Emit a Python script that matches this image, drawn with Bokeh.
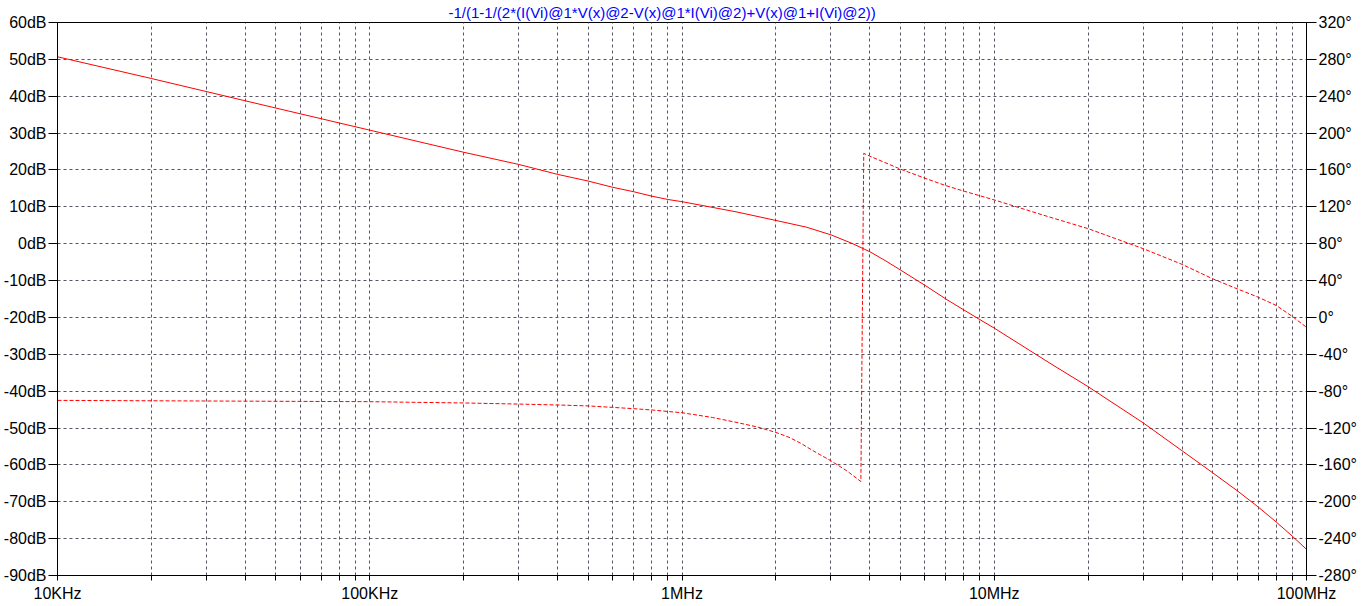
from bokeh.plotting import figure
from bokeh.models import Range1d, LinearAxis, FixedTicker
from bokeh.embed import file_html
from bokeh.resources import INLINE

TITLE = "-1/(1-1/(2*(I(Vi)@1*V(x)@2-V(x)@1*I(Vi)@2)+V(x)@1+I(Vi)@2))"

# magnitude (dB) vs frequency (Hz)
freq_mag = [1e4, 2e4, 5e4, 1e5, 2e5, 3e5, 4e5, 5e5, 6e5, 7e5, 8e5, 9e5, 1e6,
            1.5e6, 2e6, 2.5e6, 3e6, 3.5e6, 4e6, 4.5e6, 5e6, 6e6, 7e6, 8e6, 9e6, 1e7,
            1.5e7, 2e7, 3e7, 4e7, 5e7, 6e7, 7e7, 8e7, 9e7, 1e8]
mag_db = [50.7, 44.8, 36.8, 30.8, 24.8, 21.5, 18.8, 17.0, 15.3, 14.1, 12.9, 12.0, 11.4,
          8.6, 6.3, 4.5, 2.4, 0.1, -2.2, -4.7, -7.1, -11.3, -15.0, -18.0, -20.6, -22.9,
          -32.3, -38.8, -48.6, -56.2, -62.1, -67.0, -71.4, -75.5, -79.3, -82.9]

# phase (degrees) vs frequency (Hz)
freq_ph = [1e4, 1e5, 2e5, 3e5, 4e5, 5e5, 6e5, 7e5, 8e5, 9e5, 1e6, 1.25e6, 1.5e6,
           1.75e6, 2e6, 2.2e6, 2.4e6, 2.64e6, 3e6, 3.37e6, 3.74e6, 3.82e6, 4e6,
           5e6, 6e6, 7e6, 8e6, 9e6, 1e7, 1.5e7, 2e7, 3e7, 4e7, 5e7, 6e7, 7e7,
           8e7, 9e7, 1e8]
phase_deg = [-90, -91.4, -92.8, -94, -95, -96, -97.6, -99, -100.4, -102, -103.4, -108.5, -114,
             -119, -124.8, -130, -136.5, -145, -155.6, -166.4, -178, 178, 174.9,
             161, 151, 143, 137, 132, 127.5, 109, 96.3, 74.6, 57.5, 42, 31, 22,
             13, 1.2, -10.7]

x_ticks = [1e4, 1e5, 1e6, 1e7, 1e8]
x_labels = ["10KHz", "100KHz", "1MHz", "10MHz", "100MHz"]
db_ticks = list(range(-90, 61, 10))
deg_ticks = list(range(-280, 321, 40))

minor_x = [m * 10 ** e for e in range(4, 8) for m in range(2, 10)]

GRID = "#5b5363"
FONT = "Liberation Sans"
FSIZE = "16px"
RED = "#ff0000"

p = figure(width=1362, height=606, x_axis_type="log",
           x_range=Range1d(1e4, 1e8), y_range=Range1d(-90, 60),
           output_backend="svg", toolbar_location=None,
           min_border_left=56, min_border_right=56, min_border_top=0, min_border_bottom=31)
p.extra_y_ranges = {"phase": Range1d(-280, 320)}

p.title.text = TITLE
p.title.align = "left"
p.title.offset = 391
p.title.standoff = 3
p.title.text_color = "#0000ff"
p.title.text_font = FONT
p.title.text_font_size = "15px"
p.title.text_font_style = "normal"

p.background_fill_color = "white"
p.border_fill_color = "white"
p.outline_line_color = "black"
p.outline_line_width = 1

# x axis
xa = p.xaxis[0]
xa.ticker = FixedTicker(ticks=x_ticks, minor_ticks=minor_x)
xa.major_label_overrides = {t: l for t, l in zip(x_ticks, x_labels)}
xa.major_tick_in = 0
xa.major_tick_out = 5
xa.minor_tick_in = 0
xa.minor_tick_out = 5
xa.major_label_standoff = 4
xa.major_label_text_font = FONT
xa.major_label_text_font_size = FSIZE
xa.major_label_text_color = "black"
xa.axis_line_color = "black"

# left axis
ya = p.yaxis[0]
ya.ticker = FixedTicker(ticks=db_ticks)
ya.major_label_overrides = {t: f"{t}dB" for t in db_ticks}
ya.major_tick_in = 0
ya.major_tick_out = 9
ya.minor_tick_out = 0
ya.minor_tick_in = 0
ya.major_label_standoff = 2
ya.major_label_text_font = FONT
ya.major_label_text_font_size = FSIZE
ya.major_label_text_color = "black"
ya.axis_line_color = "black"

# right axis
ra = LinearAxis(y_range_name="phase", ticker=FixedTicker(ticks=deg_ticks))
ra.major_label_overrides = {t: f"{t}\u00b0" for t in deg_ticks}
ra.major_tick_in = 0
ra.major_tick_out = 10
ra.minor_tick_in = 0
ra.minor_tick_out = 0
ra.major_label_standoff = 2
ra.major_label_text_font = FONT
ra.major_label_text_font_size = FSIZE
ra.major_label_text_color = "black"
ra.axis_line_color = "black"
p.add_layout(ra, "right")

# grids
p.xgrid.ticker = FixedTicker(ticks=x_ticks, minor_ticks=minor_x)
p.xgrid.grid_line_color = GRID
p.xgrid.grid_line_dash = "3 3"
p.xgrid.minor_grid_line_color = GRID
p.xgrid.minor_grid_line_dash = "3 3"
p.ygrid.ticker = FixedTicker(ticks=db_ticks)
p.ygrid.grid_line_color = GRID
p.ygrid.grid_line_dash = "3 3"

# curves
p.line(freq_mag, mag_db, line_color=RED, line_width=1)
p.line(freq_ph, phase_deg, line_color=RED, line_width=1, line_dash="4 2",
       y_range_name="phase")

open("out.html", "w").write(file_html(p, INLINE))
